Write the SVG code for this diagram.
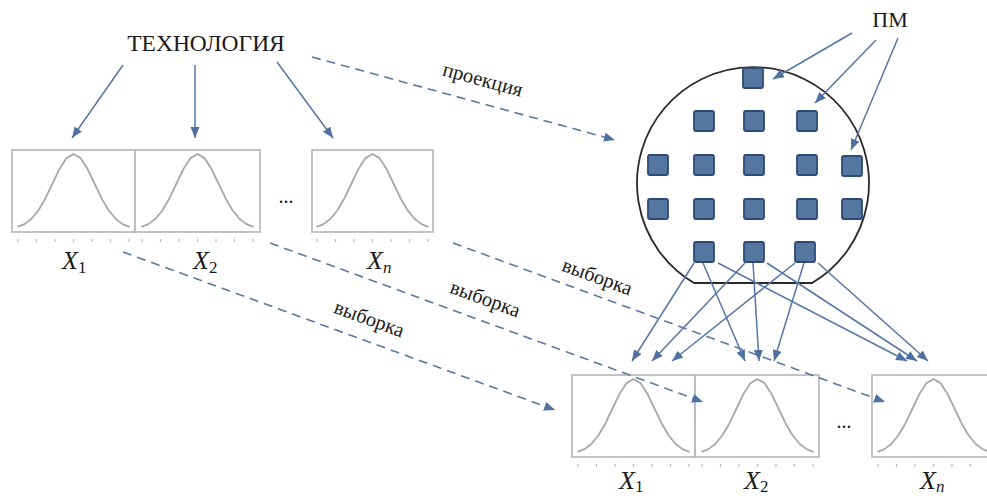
<svg xmlns="http://www.w3.org/2000/svg" width="987" height="499" viewBox="0 0 987 499" xmlns:xlink="http://www.w3.org/1999/xlink">
<defs>
<style>
.box{fill:#fff;stroke:#b4b4b4;stroke-width:1.6}
.curve{fill:none;stroke:#a8a8a8;stroke-width:1.8;stroke-linejoin:round}
.tick{stroke:#b8b8b8;stroke-width:1.2}
.sq{fill:#5676a2;stroke:#2c4a74;stroke-width:1.8}
.arr{fill:none;stroke:#5576a3;stroke-width:1.5;marker-end:url(#ah)}
.dash{fill:none;stroke:#5a78a0;stroke-width:1.6;stroke-dasharray:9 6;marker-end:url(#ah)}
text{font-family:'Liberation Serif','DejaVu Serif','Times New Roman',serif;fill:#1a1a1a}
.lbl{font-size:20.5px;text-anchor:middle}
.x{font-size:26px;font-style:italic}
.sub{font-size:17px;font-style:normal}
.subn{font-size:17px;font-style:italic}
</style>
<marker id="ah" markerUnits="userSpaceOnUse" markerWidth="12" markerHeight="10" refX="11" refY="4.5" orient="auto">
<path d="M0,0 L11,4.5 L0,9 z" fill="#4f70a0"/>
</marker>
<g id="dist">
<polyline class="curve" points="5.5,76.9 12.5,74.1 19.5,68.8 26.5,60.3 33.5,48.2 40.5,33.5 47.5,18.9 54.5,8.1 61.5,4 68.5,8.1 75.5,18.9 82.5,33.5 89.5,48.2 96.5,60.3 103.5,68.8 110.5,74.1 117.5,76.9"/>
<g class="tick">
<line x1="6" y1="89" x2="6" y2="92"/><line x1="24.5" y1="89" x2="24.5" y2="92"/><line x1="43" y1="89" x2="43" y2="92"/><line x1="61.5" y1="89" x2="61.5" y2="92"/><line x1="80" y1="89" x2="80" y2="92"/><line x1="98.5" y1="89" x2="98.5" y2="92"/><line x1="117" y1="89" x2="117" y2="92"/>
</g>
</g>
</defs>
<rect width="987" height="499" fill="#fff"/>

<g id="technology"><text x="206" y="51" font-size="23.5" text-anchor="middle">ТЕХНОЛОГИЯ</text></g>

<g id="top-x1"><rect class="box" x="12" y="150" width="123" height="82"/><use xlink:href="#dist" x="12" y="150"/><text class="x" x="62" y="269">X<tspan class="sub" dy="4">1</tspan></text></g>
<g id="top-x2"><rect class="box" x="135" y="150" width="125" height="82"/><use xlink:href="#dist" x="136" y="150"/><text class="x" x="193" y="269">X<tspan class="sub" dy="4">2</tspan></text></g>
<g id="top-dots"><text x="286" y="203" font-size="20" text-anchor="middle">...</text></g>
<g id="top-xn"><rect class="box" x="312" y="150" width="121" height="82"/><use xlink:href="#dist" x="311" y="150"/><text class="x" x="367" y="269">X<tspan class="subn" dy="4">n</tspan></text></g>

<g id="pm"><text x="890" y="27" font-size="22" text-anchor="middle">ПМ</text></g>

<g id="wafer">
<path d="M694,283 A116,116 0 1 1 812,283 Z" fill="#fff" stroke="#2a2a2a" stroke-width="1.8"/>
<rect class="sq" x="743" y="68" width="20" height="20" rx="2"/>
<rect class="sq" x="694" y="111" width="20" height="20" rx="2"/>
<rect class="sq" x="744" y="111" width="20" height="20" rx="2"/>
<rect class="sq" x="797" y="111" width="20" height="20" rx="2"/>
<rect class="sq" x="648" y="155" width="20" height="20" rx="2"/>
<rect class="sq" x="694" y="155" width="20" height="20" rx="2"/>
<rect class="sq" x="744" y="155" width="20" height="20" rx="2"/>
<rect class="sq" x="797" y="155" width="20" height="20" rx="2"/>
<rect class="sq" x="842" y="156" width="20" height="20" rx="2"/>
<rect class="sq" x="648" y="199" width="20" height="20" rx="2"/>
<rect class="sq" x="694" y="199" width="20" height="20" rx="2"/>
<rect class="sq" x="744" y="199" width="20" height="20" rx="2"/>
<rect class="sq" x="797" y="199" width="20" height="20" rx="2"/>
<rect class="sq" x="842" y="199" width="20" height="20" rx="2"/>
<rect class="sq" x="694" y="242" width="20" height="20" rx="2"/>
<rect class="sq" x="744" y="242" width="20" height="20" rx="2"/>
<rect class="sq" x="795" y="242" width="20" height="20" rx="2"/>
</g>

<g id="bottom-x1"><rect class="box" x="572" y="375" width="123" height="82"/><use xlink:href="#dist" x="572" y="375"/><text class="x" x="619" y="489">X<tspan class="sub" dy="3">1</tspan></text></g>
<g id="bottom-x2"><rect class="box" x="695" y="375" width="124" height="82"/><use xlink:href="#dist" x="696" y="375"/><text class="x" x="744" y="489">X<tspan class="sub" dy="3">2</tspan></text></g>
<g id="bottom-dots"><text x="844" y="428" font-size="20" text-anchor="middle">...</text></g>
<g id="bottom-xn"><rect class="box" x="872" y="375" width="123" height="82"/><use xlink:href="#dist" x="872" y="375"/><text class="x" x="920" y="489">X<tspan class="subn" dy="3">n</tspan></text></g>

<g id="connectors">
<line class="arr" x1="123" y1="65" x2="72" y2="138"/>
<line class="arr" x1="195" y1="65" x2="195" y2="138"/>
<line class="arr" x1="277" y1="62" x2="333" y2="138"/>
<line class="dash" x1="312" y1="57" x2="615" y2="140"/>
<line class="arr" x1="852" y1="33" x2="773" y2="79"/>
<line class="arr" x1="876" y1="40" x2="815" y2="103"/>
<line class="arr" x1="898" y1="38" x2="851" y2="150"/>
<line class="dash" x1="123" y1="252" x2="555" y2="410"/>
<line class="dash" x1="270" y1="243" x2="703" y2="402"/>
<line class="dash" x1="453" y1="243" x2="885" y2="402"/>
<line class="arr" x1="694" y1="263" x2="632" y2="361"/>
<line class="arr" x1="703" y1="263" x2="745" y2="361"/>
<line class="arr" x1="718" y1="263" x2="907" y2="361"/>
<line class="arr" x1="745" y1="263" x2="652" y2="361"/>
<line class="arr" x1="753" y1="263" x2="759" y2="361"/>
<line class="arr" x1="767" y1="263" x2="917" y2="361"/>
<line class="arr" x1="795" y1="263" x2="672" y2="361"/>
<line class="arr" x1="804" y1="263" x2="774" y2="361"/>
<line class="arr" x1="818" y1="263" x2="928" y2="361"/>
<text class="lbl" transform="translate(481,86) rotate(15.3)">проекция</text>
<text class="lbl" transform="translate(367,325) rotate(20)">выборка</text>
<text class="lbl" transform="translate(483,305) rotate(20)">выборка</text>
<text class="lbl" transform="translate(595,283) rotate(20)">выборка</text>
</g>
</svg>
